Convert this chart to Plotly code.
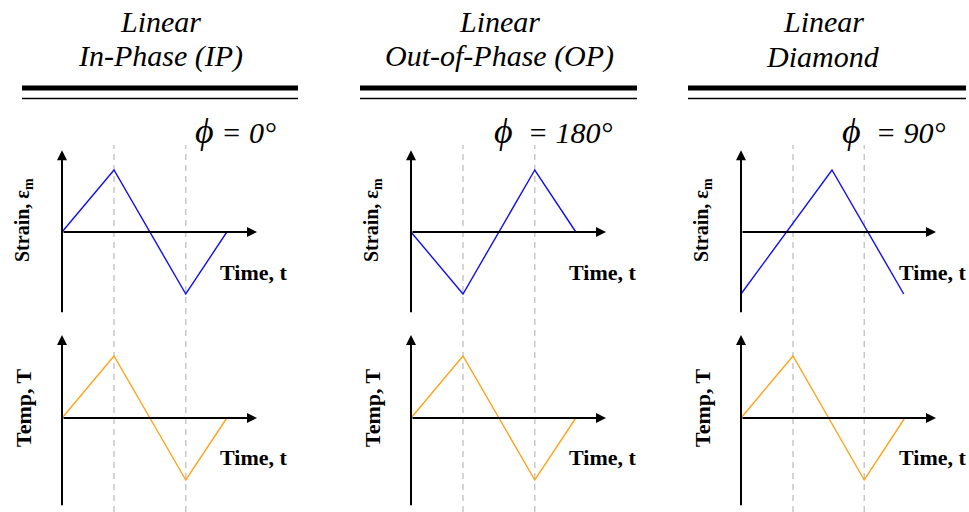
import plotly.graph_objects as go

W, H = 969, 512

# ---------------- data ----------------
titles_top = ["Linear", "Linear", "Linear"]
titles_bottom = ["In-Phase (IP)", "Out-of-Phase (OP)", "Diamond"]
phase_labels = ["0°", "180°", "90°"]

strain_t = [[0, 1.0, 2.38, 3.17], [0, 1.0, 2.38, 3.17], [0, 1.75, 3.13]]
strain_v = [[0, 1, -1, 0], [0, -1, 1, 0], [-1, 1, -1]]
temp_t = [[0, 1.0, 2.38, 3.17], [0, 1.0, 2.38, 3.17], [0, 1.0, 2.37, 3.15]]
temp_v = [[0, 1, -1, 0], [0, 1, -1, 0], [0, 1, -1, 0]]
dash_t = [[1.0, 2.38], [1.0, 2.38], [1.0, 2.37]]

strain_label = "Strain, ε<sub>m</sub>"
temp_label = "Temp, T"
time_label = "Time, t"

# ---------------- layout helpers ----------------
def px(x):
    return x / W

def py(y):
    return 1 - y / H

col_origin = [62, 411, 741]
col_center = [160, 499, 823]
xscale = 52
xr = [-0.5, 4.0]
strain_yr = [-1.45, 1.5]
temp_yr = [-1.5, 1.5]
strain_origin, temp_origin, yscale = 232, 418, 62
strain_arrow = (-1.32, 1.32)
temp_arrow = (-1.43, 1.34)
time_arrow_end = 3.75

BLUE = "#1010F0"
ORANGE = "#FFA41C"
SERIF = "Liberation Serif, Times New Roman, serif"

fig = go.Figure()
layout = dict(width=W, height=H, margin=dict(l=0, r=0, t=0, b=0),
              paper_bgcolor="white", plot_bgcolor="rgba(0,0,0,0)",
              showlegend=False)
shapes, annotations = [], []

for c in range(3):
    x0 = col_origin[c]
    xdom = [px(x0 + xr[0] * xscale), px(x0 + xr[1] * xscale)]
    for r in range(2):
        k = 2 * c + r + 1
        xa = "x" if k == 1 else f"x{k}"
        ya = "y" if k == 1 else f"y{k}"
        if r == 0:
            yr, org = strain_yr, strain_origin
            tt, vv, col = strain_t[c], strain_v[c], BLUE
            arr, lab, lsize, loff = strain_arrow, strain_label, 20, 12
        else:
            yr, org = temp_yr, temp_origin
            tt, vv, col = temp_t[c], temp_v[c], ORANGE
            arr, lab, lsize, loff = temp_arrow, temp_label, 22, 10
        ydom = [py(org - yr[0] * yscale), py(org - yr[1] * yscale)]
        axkey = "xaxis" if k == 1 else f"xaxis{k}"
        aykey = "yaxis" if k == 1 else f"yaxis{k}"
        layout[axkey] = dict(domain=xdom, range=xr, anchor=ya, visible=False,
                             showgrid=False, zeroline=False, fixedrange=True)
        layout[aykey] = dict(domain=ydom, range=yr, anchor=xa, visible=False,
                             showgrid=False, zeroline=False, fixedrange=True)
        fig.add_trace(go.Scatter(x=tt, y=vv, mode="lines", xaxis=xa, yaxis=ya,
                                 line=dict(color=col, width=1.4), hoverinfo="skip"))
        # y axis arrow
        annotations.append(dict(x=0, y=arr[1], ax=0, ay=arr[0], xref=xa, yref=ya,
                                axref=xa, ayref=ya, text="", showarrow=True,
                                arrowhead=2, arrowsize=1, arrowwidth=2,
                                arrowcolor="black", standoff=0, startstandoff=0))
        # time axis arrow
        annotations.append(dict(x=time_arrow_end, y=0, ax=0, ay=0, xref=xa, yref=ya,
                                axref=xa, ayref=ya, text="", showarrow=True,
                                arrowhead=2, arrowsize=1, arrowwidth=2,
                                arrowcolor="black", standoff=0, startstandoff=0))
        # axis labels
        annotations.append(dict(x=px(x0 - 39), y=py(org - loff),
                                xref="paper", yref="paper",
                                text=f"<b>{lab}</b>", textangle=-90, showarrow=False,
                                font=dict(family=SERIF, size=lsize, color="black"),
                                xanchor="center", yanchor="middle"))
        annotations.append(dict(x=px(x0 + 191), y=py(org + 40 if r == 0 else org + 39),
                                xref="paper", yref="paper",
                                text=f"<b>{time_label}</b>", showarrow=False,
                                font=dict(family=SERIF, size=22, color="black"),
                                xanchor="center", yanchor="middle"))
    # dashed verticals spanning both rows
    xa_top = "x" if c == 0 else f"x{2 * c + 1}"
    for dt in dash_t[c]:
        shapes.append(dict(type="line", xref=xa_top, yref="paper", x0=dt, x1=dt,
                           y0=0, y1=py(145), layer="below",
                           line=dict(color="#C8C8C8", width=1.5, dash="6px,5px")))

    # titles
    annotations.append(dict(x=px(col_center[c]), y=py(21), xref="paper", yref="paper",
                            text=f"<i>{titles_top[c]}</i>", showarrow=False,
                            font=dict(family=SERIF, size=30, color="black"),
                            xanchor="center", yanchor="middle"))
    annotations.append(dict(x=px(col_center[c]), y=py(56), xref="paper", yref="paper",
                            text=f"<i>{titles_bottom[c]}</i>", showarrow=False,
                            font=dict(family=SERIF, size=30, color="black"),
                            xanchor="center", yanchor="middle"))

# double rules under titles
rule_x = [(22, 298), (360, 637), (688, 966)]
for a, b in rule_x:
    shapes.append(dict(type="line", xref="paper", yref="paper", x0=px(a), x1=px(b),
                       y0=py(88), y1=py(88), line=dict(color="black", width=5)))
    shapes.append(dict(type="line", xref="paper", yref="paper", x0=px(a), x1=px(b),
                       y0=py(98.5), y1=py(98.5), line=dict(color="black", width=1.3)))

# phase labels
phi_x = [193, 492, 840]
phi_gap = ["\u00a0", "\u00a0\u00a0", "\u00a0\u00a0"]
for c in range(3):
    annotations.append(dict(x=px(phi_x[c]), y=py(131), xref="paper", yref="paper",
                            text=f'<i><span style="font-size:36px">ϕ</span>{phi_gap[c]}= {phase_labels[c]}</i>',
                            showarrow=False,
                            font=dict(family=SERIF, size=30, color="black"),
                            xanchor="left", yanchor="middle"))

layout["shapes"] = shapes
layout["annotations"] = annotations
fig.update_layout(**layout)
fig.write_html("out.html", config={"displayModeBar": False},
               post_script="document.body.style.margin='0';document.body.style.overflow='hidden';")
